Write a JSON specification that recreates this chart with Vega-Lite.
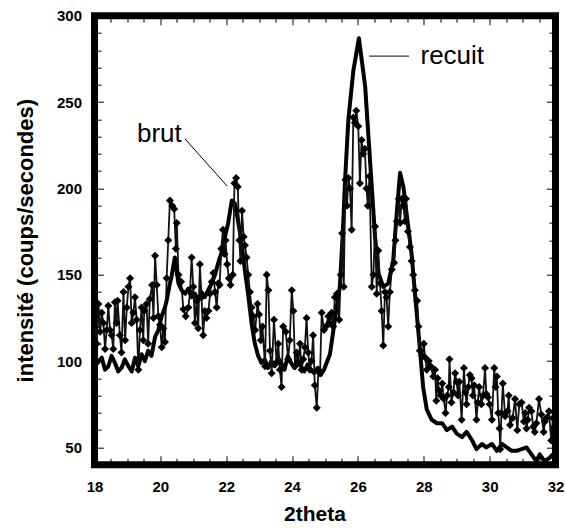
{
  "$schema": "https://vega.github.io/schema/vega-lite/v6.json",
  "width": 461,
  "height": 449,
  "autosize": {"type": "none"},
  "padding": {"left": 94.5, "top": 15.7, "right": 9.5, "bottom": 64},
  "background": "white",
  "config": {
    "view": {"stroke": "black", "strokeWidth": 7},
    "font": "Liberation Sans",
    "axis": {"domain": false, "grid": false, "tickColor": "black", "tickWidth": 1, "labelColor": "black", "titleColor": "black", "labelFont": "Liberation Sans", "titleFont": "Liberation Sans", "labelFontWeight": "bold", "titleFontWeight": "bold", "labelFlush": false, "labelOverlap": false}
  },
  "datasets": {
    "recuit": [
      {"x": 18.0, "y": 104}, {"x": 18.1, "y": 99}, {"x": 18.22, "y": 102}, {"x": 18.32, "y": 95}, {"x": 18.42, "y": 97}, {"x": 18.52, "y": 103}, {"x": 18.62, "y": 99}, {"x": 18.72, "y": 94}, {"x": 18.82, "y": 96}, {"x": 18.92, "y": 101},
      {"x": 19.03, "y": 97}, {"x": 19.13, "y": 94}, {"x": 19.23, "y": 102}, {"x": 19.33, "y": 97}, {"x": 19.43, "y": 104}, {"x": 19.53, "y": 100}, {"x": 19.63, "y": 106}, {"x": 19.73, "y": 103}, {"x": 19.84, "y": 114}, {"x": 19.94, "y": 118},
      {"x": 20.04, "y": 126}, {"x": 20.14, "y": 131}, {"x": 20.19, "y": 135}, {"x": 20.29, "y": 145}, {"x": 20.34, "y": 149}, {"x": 20.44, "y": 160}, {"x": 20.55, "y": 145}, {"x": 20.65, "y": 141}, {"x": 20.75, "y": 139}, {"x": 20.85, "y": 142}, {"x": 20.95, "y": 137},
      {"x": 21.05, "y": 139}, {"x": 21.15, "y": 135}, {"x": 21.25, "y": 140}, {"x": 21.35, "y": 137}, {"x": 21.45, "y": 141}, {"x": 21.56, "y": 145}, {"x": 21.66, "y": 150}, {"x": 21.76, "y": 157}, {"x": 21.86, "y": 163}, {"x": 21.96, "y": 172},
      {"x": 22.06, "y": 180}, {"x": 22.17, "y": 193}, {"x": 22.27, "y": 191}, {"x": 22.37, "y": 180}, {"x": 22.47, "y": 168}, {"x": 22.57, "y": 152}, {"x": 22.67, "y": 138}, {"x": 22.77, "y": 122}, {"x": 22.87, "y": 110}, {"x": 22.97, "y": 103},
      {"x": 23.07, "y": 99}, {"x": 23.17, "y": 101}, {"x": 23.27, "y": 96}, {"x": 23.37, "y": 100}, {"x": 23.47, "y": 97}, {"x": 23.57, "y": 102}, {"x": 23.67, "y": 99}, {"x": 23.77, "y": 95}, {"x": 23.87, "y": 103}, {"x": 23.97, "y": 99},
      {"x": 24.07, "y": 96}, {"x": 24.17, "y": 100}, {"x": 24.27, "y": 97}, {"x": 24.37, "y": 94}, {"x": 24.47, "y": 98}, {"x": 24.57, "y": 95}, {"x": 24.67, "y": 93}, {"x": 24.77, "y": 96}, {"x": 24.87, "y": 92}, {"x": 24.97, "y": 95},
      {"x": 25.05, "y": 99}, {"x": 25.15, "y": 104}, {"x": 25.3, "y": 124}, {"x": 25.45, "y": 143}, {"x": 25.54, "y": 174}, {"x": 25.61, "y": 205}, {"x": 25.71, "y": 240}, {"x": 25.86, "y": 268}, {"x": 26.03, "y": 287},
      {"x": 26.22, "y": 259}, {"x": 26.32, "y": 230}, {"x": 26.42, "y": 201}, {"x": 26.52, "y": 172}, {"x": 26.62, "y": 151}, {"x": 26.77, "y": 143}, {"x": 26.92, "y": 145},
      {"x": 27.07, "y": 158}, {"x": 27.18, "y": 186}, {"x": 27.28, "y": 209}, {"x": 27.38, "y": 201}, {"x": 27.5, "y": 182}, {"x": 27.63, "y": 162}, {"x": 27.76, "y": 133}, {"x": 27.86, "y": 112}, {"x": 27.98, "y": 85},
      {"x": 28.09, "y": 72}, {"x": 28.24, "y": 66}, {"x": 28.4, "y": 64}, {"x": 28.56, "y": 64}, {"x": 28.7, "y": 60}, {"x": 28.86, "y": 62}, {"x": 29.0, "y": 58}, {"x": 29.16, "y": 56}, {"x": 29.3, "y": 59}, {"x": 29.47, "y": 54},
      {"x": 29.6, "y": 49}, {"x": 29.77, "y": 52}, {"x": 29.9, "y": 50}, {"x": 30.07, "y": 52}, {"x": 30.22, "y": 48}, {"x": 30.37, "y": 52}, {"x": 30.52, "y": 50}, {"x": 30.67, "y": 48}, {"x": 30.82, "y": 48}, {"x": 30.97, "y": 49},
      {"x": 31.12, "y": 50}, {"x": 31.27, "y": 46}, {"x": 31.42, "y": 42}, {"x": 31.52, "y": 46}, {"x": 31.67, "y": 42}, {"x": 31.82, "y": 44}, {"x": 31.92, "y": 46}, {"x": 32.0, "y": 47}
    ],
    "brut": [
      {"x": 18.02, "y": 120}, {"x": 18.07, "y": 110}, {"x": 18.12, "y": 133}, {"x": 18.17, "y": 117}, {"x": 18.22, "y": 128}, {"x": 18.27, "y": 122}, {"x": 18.32, "y": 107}, {"x": 18.37, "y": 118}, {"x": 18.42, "y": 132}, {"x": 18.47, "y": 118},
      {"x": 18.52, "y": 115}, {"x": 18.57, "y": 107}, {"x": 18.62, "y": 134}, {"x": 18.67, "y": 122}, {"x": 18.7, "y": 135}, {"x": 18.77, "y": 115}, {"x": 18.82, "y": 105}, {"x": 18.88, "y": 140}, {"x": 18.93, "y": 112}, {"x": 18.98, "y": 131},
      {"x": 19.03, "y": 143}, {"x": 19.08, "y": 148}, {"x": 19.13, "y": 122}, {"x": 19.18, "y": 128}, {"x": 19.23, "y": 137}, {"x": 19.28, "y": 124}, {"x": 19.33, "y": 95}, {"x": 19.38, "y": 118}, {"x": 19.43, "y": 131}, {"x": 19.48, "y": 112},
      {"x": 19.51, "y": 129}, {"x": 19.58, "y": 133}, {"x": 19.63, "y": 110}, {"x": 19.68, "y": 136}, {"x": 19.75, "y": 144}, {"x": 19.79, "y": 125}, {"x": 19.84, "y": 161}, {"x": 19.89, "y": 144}, {"x": 19.94, "y": 126}, {"x": 19.99, "y": 121},
      {"x": 20.04, "y": 108}, {"x": 20.09, "y": 119}, {"x": 20.14, "y": 111}, {"x": 20.19, "y": 148}, {"x": 20.24, "y": 170}, {"x": 20.29, "y": 193}, {"x": 20.36, "y": 190}, {"x": 20.42, "y": 188}, {"x": 20.47, "y": 165}, {"x": 20.5, "y": 180},
      {"x": 20.55, "y": 150}, {"x": 20.63, "y": 146}, {"x": 20.7, "y": 130}, {"x": 20.77, "y": 126}, {"x": 20.85, "y": 131}, {"x": 20.9, "y": 140}, {"x": 20.95, "y": 160}, {"x": 21.0, "y": 143}, {"x": 21.05, "y": 122}, {"x": 21.1, "y": 135},
      {"x": 21.15, "y": 119}, {"x": 21.2, "y": 156}, {"x": 21.25, "y": 137}, {"x": 21.3, "y": 115}, {"x": 21.35, "y": 129}, {"x": 21.4, "y": 125}, {"x": 21.46, "y": 129}, {"x": 21.51, "y": 139}, {"x": 21.56, "y": 146}, {"x": 21.61, "y": 151},
      {"x": 21.66, "y": 140}, {"x": 21.71, "y": 131}, {"x": 21.76, "y": 145}, {"x": 21.8, "y": 144}, {"x": 21.85, "y": 165}, {"x": 21.9, "y": 176}, {"x": 21.95, "y": 162}, {"x": 21.98, "y": 170}, {"x": 22.03, "y": 156}, {"x": 22.08, "y": 148},
      {"x": 22.13, "y": 144}, {"x": 22.2, "y": 150}, {"x": 22.25, "y": 203}, {"x": 22.3, "y": 206}, {"x": 22.35, "y": 201}, {"x": 22.4, "y": 170}, {"x": 22.43, "y": 158}, {"x": 22.48, "y": 187}, {"x": 22.53, "y": 172}, {"x": 22.57, "y": 167},
      {"x": 22.62, "y": 160}, {"x": 22.67, "y": 150}, {"x": 22.72, "y": 140}, {"x": 22.77, "y": 131}, {"x": 22.82, "y": 126}, {"x": 22.88, "y": 118}, {"x": 22.95, "y": 133}, {"x": 23.0, "y": 127}, {"x": 23.05, "y": 112}, {"x": 23.1, "y": 120},
      {"x": 23.18, "y": 97}, {"x": 23.23, "y": 150}, {"x": 23.28, "y": 141}, {"x": 23.33, "y": 106}, {"x": 23.38, "y": 93}, {"x": 23.45, "y": 124}, {"x": 23.53, "y": 99}, {"x": 23.58, "y": 110}, {"x": 23.63, "y": 95}, {"x": 23.68, "y": 85},
      {"x": 23.73, "y": 120}, {"x": 23.81, "y": 117}, {"x": 23.88, "y": 101}, {"x": 23.93, "y": 112}, {"x": 23.99, "y": 141}, {"x": 24.04, "y": 129}, {"x": 24.09, "y": 97}, {"x": 24.14, "y": 105}, {"x": 24.19, "y": 99}, {"x": 24.24, "y": 110},
      {"x": 24.29, "y": 95}, {"x": 24.34, "y": 101}, {"x": 24.39, "y": 108}, {"x": 24.44, "y": 125}, {"x": 24.49, "y": 105}, {"x": 24.54, "y": 95}, {"x": 24.59, "y": 100}, {"x": 24.64, "y": 115}, {"x": 24.69, "y": 86}, {"x": 24.75, "y": 73},
      {"x": 24.8, "y": 95}, {"x": 24.85, "y": 93}, {"x": 24.9, "y": 128}, {"x": 24.97, "y": 118}, {"x": 25.03, "y": 120}, {"x": 25.1, "y": 126}, {"x": 25.15, "y": 122}, {"x": 25.2, "y": 128}, {"x": 25.25, "y": 120}, {"x": 25.3, "y": 137},
      {"x": 25.36, "y": 139}, {"x": 25.43, "y": 124}, {"x": 25.48, "y": 150}, {"x": 25.52, "y": 174}, {"x": 25.57, "y": 143}, {"x": 25.62, "y": 205}, {"x": 25.67, "y": 190}, {"x": 25.71, "y": 206}, {"x": 25.76, "y": 200}, {"x": 25.81, "y": 176},
      {"x": 25.86, "y": 241}, {"x": 25.91, "y": 238}, {"x": 25.95, "y": 245}, {"x": 26.01, "y": 236}, {"x": 26.06, "y": 203}, {"x": 26.11, "y": 228}, {"x": 26.16, "y": 220}, {"x": 26.21, "y": 223}, {"x": 26.26, "y": 200}, {"x": 26.3, "y": 190},
      {"x": 26.35, "y": 207}, {"x": 26.42, "y": 143}, {"x": 26.47, "y": 150}, {"x": 26.52, "y": 178}, {"x": 26.57, "y": 139}, {"x": 26.62, "y": 164}, {"x": 26.67, "y": 145}, {"x": 26.72, "y": 129}, {"x": 26.77, "y": 109}, {"x": 26.82, "y": 140},
      {"x": 26.87, "y": 137}, {"x": 26.92, "y": 120}, {"x": 26.97, "y": 140}, {"x": 27.03, "y": 153}, {"x": 27.1, "y": 157}, {"x": 27.14, "y": 170}, {"x": 27.18, "y": 181}, {"x": 27.24, "y": 194}, {"x": 27.28, "y": 180}, {"x": 27.33, "y": 194},
      {"x": 27.38, "y": 190}, {"x": 27.43, "y": 181}, {"x": 27.46, "y": 194}, {"x": 27.52, "y": 175}, {"x": 27.58, "y": 166}, {"x": 27.63, "y": 158}, {"x": 27.68, "y": 150}, {"x": 27.73, "y": 141}, {"x": 27.8, "y": 135}, {"x": 27.84, "y": 120},
      {"x": 27.88, "y": 106}, {"x": 27.95, "y": 103}, {"x": 28.0, "y": 110}, {"x": 28.04, "y": 102}, {"x": 28.09, "y": 95}, {"x": 28.15, "y": 100}, {"x": 28.21, "y": 97}, {"x": 28.29, "y": 91}, {"x": 28.34, "y": 95}, {"x": 28.38, "y": 77},
      {"x": 28.42, "y": 90}, {"x": 28.46, "y": 83}, {"x": 28.51, "y": 80}, {"x": 28.56, "y": 87}, {"x": 28.61, "y": 78}, {"x": 28.66, "y": 70}, {"x": 28.71, "y": 80}, {"x": 28.76, "y": 85}, {"x": 28.78, "y": 101}, {"x": 28.84, "y": 76},
      {"x": 28.9, "y": 82}, {"x": 28.95, "y": 93}, {"x": 29.0, "y": 88}, {"x": 29.04, "y": 80}, {"x": 29.08, "y": 88}, {"x": 29.15, "y": 66}, {"x": 29.22, "y": 96}, {"x": 29.26, "y": 82}, {"x": 29.3, "y": 75}, {"x": 29.35, "y": 85},
      {"x": 29.4, "y": 92}, {"x": 29.45, "y": 90}, {"x": 29.49, "y": 80}, {"x": 29.53, "y": 86}, {"x": 29.6, "y": 66}, {"x": 29.64, "y": 76}, {"x": 29.68, "y": 85}, {"x": 29.75, "y": 75}, {"x": 29.8, "y": 80}, {"x": 29.86, "y": 96},
      {"x": 29.9, "y": 81}, {"x": 29.95, "y": 79}, {"x": 30.0, "y": 75}, {"x": 30.07, "y": 66}, {"x": 30.14, "y": 96}, {"x": 30.18, "y": 85}, {"x": 30.22, "y": 91}, {"x": 30.26, "y": 70}, {"x": 30.3, "y": 61}, {"x": 30.32, "y": 49},
      {"x": 30.36, "y": 70}, {"x": 30.4, "y": 87}, {"x": 30.47, "y": 68}, {"x": 30.54, "y": 71}, {"x": 30.58, "y": 80}, {"x": 30.62, "y": 63}, {"x": 30.7, "y": 67}, {"x": 30.77, "y": 78}, {"x": 30.84, "y": 60}, {"x": 30.9, "y": 75},
      {"x": 30.97, "y": 76}, {"x": 31.04, "y": 65}, {"x": 31.08, "y": 70}, {"x": 31.12, "y": 61}, {"x": 31.16, "y": 66}, {"x": 31.2, "y": 73}, {"x": 31.27, "y": 71}, {"x": 31.32, "y": 62}, {"x": 31.37, "y": 59}, {"x": 31.42, "y": 64},
      {"x": 31.5, "y": 78}, {"x": 31.57, "y": 69}, {"x": 31.64, "y": 59}, {"x": 31.68, "y": 65}, {"x": 31.72, "y": 67}, {"x": 31.8, "y": 71}, {"x": 31.87, "y": 54}, {"x": 31.92, "y": 67}, {"x": 31.97, "y": 62}
    ],
    "labels": [
      {"x": 19.29, "y": 226.6, "label": "brut"},
      {"x": 27.9, "y": 271.8, "label": "recuit"}
    ],
    "leaders": [
      {"x": 20.75, "y": 228.6, "x2": 22.03, "y2": 201.3},
      {"x": 26.34, "y": 276.6, "x2": 27.55, "y2": 276.6}
    ]
  },
  "resolve": {"axis": {"x": "independent", "y": "independent"}},
  "layer": [
    {
      "data": {"name": "recuit"},
      "mark": {"type": "line", "color": "black", "strokeWidth": 4, "clip": true, "strokeJoin": "round"},
      "encoding": {
        "x": {"field": "x", "type": "quantitative", "scale": {"domain": [18, 32], "nice": false, "zero": false},
          "axis": {"orient": "bottom", "values": [18, 20, 22, 24, 26, 28, 30, 32], "tickSize": -9, "labelPadding": 24, "labelFontSize": 15, "title": "2theta", "titleFontSize": 21, "titlePadding": 9, "titleX": 220}},
        "y": {"field": "y", "type": "quantitative", "scale": {"domain": [40, 300], "nice": false, "zero": false},
          "axis": {"orient": "left", "values": [50, 100, 150, 200, 250, 300], "tickSize": -9, "labelPadding": 22, "labelFontSize": 15, "title": "intensité (coups/secondes)", "titleFontSize": 22, "titlePadding": 19}}
      }
    },
    {
      "data": {"name": "brut"},
      "mark": {"type": "line", "color": "#111111", "strokeWidth": 1.8, "clip": true},
      "encoding": {
        "x": {"field": "x", "type": "quantitative", "scale": {"domain": [18, 32], "nice": false, "zero": false},
          "axis": {"orient": "bottom", "values": [18.5, 19, 19.5, 20.5, 21, 21.5, 22.5, 23, 23.5, 24.5, 25, 25.5, 26.5, 27, 27.5, 28.5, 29, 29.5, 30.5, 31, 31.5], "tickSize": -6.5, "labels": false, "title": null}},
        "y": {"field": "y", "type": "quantitative", "scale": {"domain": [40, 300], "nice": false, "zero": false},
          "axis": {"orient": "left", "values": [60, 70, 80, 90, 110, 120, 130, 140, 160, 170, 180, 190, 210, 220, 230, 240, 260, 270, 280, 290], "tickSize": -6.5, "labels": false, "title": null}}
      }
    },
    {
      "data": {"name": "brut"},
      "mark": {"type": "point", "shape": "diamond", "filled": true, "color": "black", "opacity": 1, "size": 64, "clip": true},
      "encoding": {
        "x": {"field": "x", "type": "quantitative", "scale": {"domain": [18, 32], "nice": false, "zero": false}, "axis": null},
        "y": {"field": "y", "type": "quantitative", "scale": {"domain": [40, 300], "nice": false, "zero": false}, "axis": null}
      }
    },
    {
      "data": {"name": "labels"},
      "mark": {"type": "text", "align": "left", "baseline": "alphabetic", "fontSize": 26, "font": "Liberation Sans", "color": "black"},
      "encoding": {
        "x": {"field": "x", "type": "quantitative", "scale": {"domain": [18, 32], "nice": false, "zero": false},
          "axis": {"orient": "top", "values": [18, 20, 22, 24, 26, 28, 30, 32], "tickSize": -9, "labels": false, "title": null}},
        "y": {"field": "y", "type": "quantitative", "scale": {"domain": [40, 300], "nice": false, "zero": false},
          "axis": {"orient": "right", "values": [50, 100, 150, 200, 250, 300], "tickSize": -9, "labels": false, "title": null}},
        "text": {"field": "label"}
      }
    },
    {
      "data": {"name": "leaders"},
      "mark": {"type": "rule", "color": "black", "strokeWidth": 1},
      "encoding": {
        "x": {"field": "x", "type": "quantitative", "scale": {"domain": [18, 32], "nice": false, "zero": false},
          "axis": {"orient": "top", "values": [18.5, 19, 19.5, 20.5, 21, 21.5, 22.5, 23, 23.5, 24.5, 25, 25.5, 26.5, 27, 27.5, 28.5, 29, 29.5, 30.5, 31, 31.5], "tickSize": -6.5, "labels": false, "title": null}},
        "y": {"field": "y", "type": "quantitative", "scale": {"domain": [40, 300], "nice": false, "zero": false},
          "axis": {"orient": "right", "values": [60, 70, 80, 90, 110, 120, 130, 140, 160, 170, 180, 190, 210, 220, 230, 240, 260, 270, 280, 290], "tickSize": -6.5, "labels": false, "title": null}},
        "x2": {"field": "x2"},
        "y2": {"field": "y2"}
      }
    }
  ]
}
